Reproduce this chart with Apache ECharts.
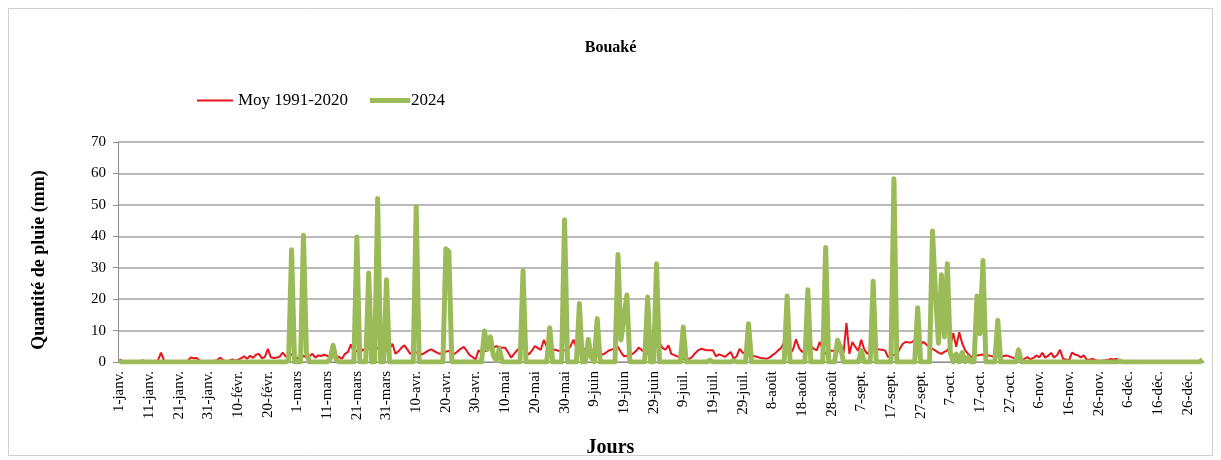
<!DOCTYPE html>
<html>
<head>
<meta charset="utf-8">
<script src="https://cdn.jsdelivr.net/npm/echarts@6/dist/echarts.min.js"></script>
<style>
  html, body { margin: 0; padding: 0; background: #fff; }
  #chart { width: 1221px; height: 460px; }
</style>
</head>
<body>
<div id="chart"></div>
<script>
const monthNames = ['janv.', 'févr.', 'mars', 'avr.', 'mai', 'juin', 'juil.', 'août', 'sept.', 'oct.', 'nov.', 'déc.']
const monthDays = [31, 29, 31, 30, 31, 30, 31, 31, 30, 31, 30, 31]

// Moy 1991-2020, une ligne par mois
const moy19912020 = [
  [0.8,0.3,0.1,0.2,0.1,0.1,0.2,0.3,0.5,0.2,0.1,0.1,0.2,0.6,3.0,0.5,0.1,0.1,0.2,0.1,0.1,0.2,0.3,0.4,1.4,1.2,1.3,0.5,0.2,0.3,0.2],
  [0.3,0.4,0.6,1.4,0.5,0.3,0.4,0.8,0.4,0.7,1.2,1.8,1.0,2.0,1.3,2.3,2.6,1.2,1.6,4.2,1.5,1.3,1.4,1.7,3.0,1.8,1.4,2.5,2.0],
  [1.2,1.0,2.0,1.5,1.8,2.6,1.4,2.1,1.9,2.3,2.0,1.6,2.4,2.0,1.6,1.0,2.6,3.2,5.6,3.2,3.6,2.8,4.0,3.4,4.4,3.0,3.8,4.6,3.3,4.0,3.6],
  [4.2,5.8,2.6,3.4,4.5,5.3,4.0,2.6,3.3,3.0,2.8,2.4,3.0,3.6,4.0,3.5,3.0,2.6,3.0,3.3,3.5,3.0,2.6,3.4,4.2,4.8,3.6,2.2,1.6,0.8],
  [3.7,3.0,3.4,3.8,4.2,4.6,5.0,4.8,4.5,4.5,3.0,1.4,2.6,3.8,4.4,4.8,3.4,2.4,3.6,5.1,4.4,3.9,7.0,4.8,5.2,4.2,3.8,3.6,3.5,3.7,3.9],
  [5.0,7.1,4.6,4.4,4.0,4.2,4.0,3.8,3.5,3.0,2.6,2.4,3.0,3.7,4.0,4.4,4.8,3.2,1.8,2.0,2.3,2.6,3.4,4.6,3.8,3.0,2.6,3.4,4.2,5.0],
  [6.0,4.5,3.9,5.3,2.6,2.2,1.8,1.4,1.0,1.2,1.0,1.6,2.8,3.7,4.2,4.0,3.7,3.7,3.7,1.8,2.4,2.1,1.6,2.4,3.2,1.0,1.8,4.2,3.0,2.6,2.4],
  [2.1,1.8,1.6,1.3,1.2,1.0,1.4,2.1,2.8,3.7,4.5,6.4,4.0,2.6,4.0,7.2,4.5,3.2,4.0,4.4,5.3,4.2,3.7,6.4,4.0,2.6,3.0,3.7,3.4,3.2,5.5],
  [2.8,12.4,2.6,6.4,4.8,3.5,7.1,4.0,2.6,3.6,4.6,4.2,4.0,3.9,3.7,1.6,2.0,2.2,2.6,4.2,5.8,6.4,6.2,6.3,6.9,6.0,5.6,6.4,5.5,4.8],
  [4.2,3.6,3.0,2.6,3.2,3.7,5.0,9.2,4.8,9.5,6.0,3.7,2.6,1.6,1.8,2.1,2.2,2.4,2.0,2.1,1.8,1.7,1.9,1.6,1.9,2.1,1.7,1.4,1.0,0.9,0.7],
  [1.0,1.6,0.8,1.3,2.1,1.5,2.9,1.4,2.0,2.9,1.4,2.2,3.9,1.0,0.8,0.5,3.0,2.4,2.1,1.5,2.1,0.7,0.8,1.0,0.6,0.3,0.4,0.5,0.6,1.0],
  [0.8,1.0,0.3,0.2,0.1,0.2,0.1,0.1,0.2,0.1,0.1,0.1,0.2,0.1,0.0,0.1,0.3,0.1,0.1,0.0,0.1,0.1,0.2,0.1,0.0,0.1,0.1,0.0,0.1,0.1,0.3]
]

// 2024, une ligne par mois
const pluie2024 = [
  [0,0,0,0,0,0,0,0,0,0,0,0,0,0,0,0,0,0,0,0,0,0,0,0,0,0,0,0,0,0,0],
  [0,0,0,0,0,0,0,0,0,0,0,0,0,0,0,0,0,0,0,0,0,0,0,0,0,0,0.5,35.7,0],
  [0,0,40.3,3,0,0,0,0,0,0,0,1,5.3,0.8,0,0,0,0,0,0,39.8,0,0,0,28.3,0,0,52,0,0,26.2],
  [0,0,0,0,0,0,0,0,0,49.5,0,0,0,0,0,0,0,0,0,36,35.2,0,0,0,0,0,0,0,0,0],
  [0,0,9.9,4,8,2,0.5,4.2,0,0,0,0,0,0,0,29,0,0,0,0,0,0,0,0,10.9,0,0,0,0,45.3,0],
  [0,0,0,18.6,0,0,7.2,1.5,0,13.8,0,0,0,0,0,0,34.2,7,14,21.3,0,0,0,0,0,0,20.7,0,0,31.3],
  [0,0,0,0,0,0,0,0,11.1,0,0,0,0,0,0,0,0,0.6,0,0,0,0,0,0,0,0.4,0,0,0,0,12.2],
  [0,0,0,0,0,0,0,0,0,0,0,0,21,0,0,0,0,0,0,23,0,0,0,0,0,36.4,0,0,0,6.9,4.8],
  [0,0,0,0,0,0,3.7,0,0,0,25.7,0,0,0,0,0,0,58.3,0,0,0,0,0,0,0,17.3,0,0,0,0],
  [41.7,22,6,27.8,8,31.3,3,0,2.5,0,3,0,1.5,0,0,21,9,32.3,0,0,0,0,13.3,0,0,0,0,0,0,3.9,0],
  [0,0,0,0,0,0,0,0,0,0,0,0,0,0,0,0,0,0,0,0,0,0,0,0,0,0,0,0,0,0],
  [0,0,0.3,0,0,0,0,0,0,0,0,0,0,0,0,0,0,0,0,0,0,0,0,0,0,0,0,0,0,0,0.8]
]

const days = []
monthDays.forEach((n, m) => {
  for (let d = 1; d <= n; d++) days.push(d + '-' + monthNames[m])
})

const serif = '"Liberation Serif", "Times New Roman", "DejaVu Serif", serif'
const axisGrey = '#8c8c8c'
const red = '#e8141c'
const green = '#9bbb59'

const option = {
  animation: false,
  textStyle: { fontFamily: serif, color: '#000' },
  title: [
    {
      text: 'Bouaké',
      left: 'center',
      top: 35,
      textStyle: { fontFamily: serif, fontSize: 16, fontWeight: 'bold', color: '#000' }
    },
    {
      // titre de l'axe X, centré sur la figure comme dans Excel
      text: 'Jours',
      left: 'center',
      top: 433,
      textStyle: { fontFamily: serif, fontSize: 20, fontWeight: 'bold', color: '#000' }
    }
  ],
  // une légende par série pour avoir deux épaisseurs de trait
  legend: [
    {
      left: 192,
      top: 87,
      icon: 'rect',
      itemWidth: 36,
      itemHeight: 2,
      textStyle: { fontFamily: serif, fontSize: 17, color: '#000' },
      data: ['Moy 1991-2020']
    },
    {
      left: 365,
      top: 87,
      icon: 'rect',
      itemWidth: 40,
      itemHeight: 5,
      textStyle: { fontFamily: serif, fontSize: 17, color: '#000', padding: [0, 0, 0, -4] },
      data: ['2024']
    }
  ],
  grid: {
    left: 118,
    right: 17,
    top: 142,
    bottom: 98
  },
  xAxis: {
    type: 'category',
    data: days,
    boundaryGap: true,
    axisLine: { lineStyle: { color: axisGrey } },
    axisTick: { interval: 9, length: 5, lineStyle: { color: axisGrey } },
    axisLabel: {
      interval: 9,
      rotate: 90,
      fontFamily: serif,
      fontSize: 15,
      color: '#000',
      margin: 9
    }
  },
  yAxis: {
    type: 'value',
    min: 0,
    max: 70,
    interval: 10,
    name: 'Quantité de pluie (mm)',
    nameLocation: 'middle',
    nameGap: 70,
    nameTextStyle: { fontFamily: serif, fontSize: 18, fontWeight: 'bold', color: '#000', padding: [0, 16, 0, 0] },
    axisLine: { show: true, lineStyle: { color: axisGrey } },
    axisTick: { show: true, length: 5, lineStyle: { color: axisGrey } },
    axisLabel: { fontFamily: serif, fontSize: 15, color: '#000', margin: 12 },
    splitLine: { lineStyle: { color: '#a3a3a3', width: 1.5 } }
  },
  series: [
    {
      name: 'Moy 1991-2020',
      type: 'line',
      symbol: 'none',
      data: moy19912020.flat(),
      color: red,
      lineStyle: { width: 2, color: red }
    },
    {
      name: '2024',
      type: 'line',
      symbol: 'none',
      data: pluie2024.flat(),
      color: green,
      lineStyle: { width: 5, color: green, join: 'round' }
    }
  ],
  graphic: [
    {
      type: 'rect',
      shape: { x: 8.5, y: 8.5, width: 1204, height: 447 },
      style: { fill: 'none', stroke: '#d0d0d0', lineWidth: 1 },
      silent: true
    }
  ]
}

const myChart = echarts.init(document.getElementById('chart'))
myChart.setOption(option, true)
</script>
</body>
</html>
